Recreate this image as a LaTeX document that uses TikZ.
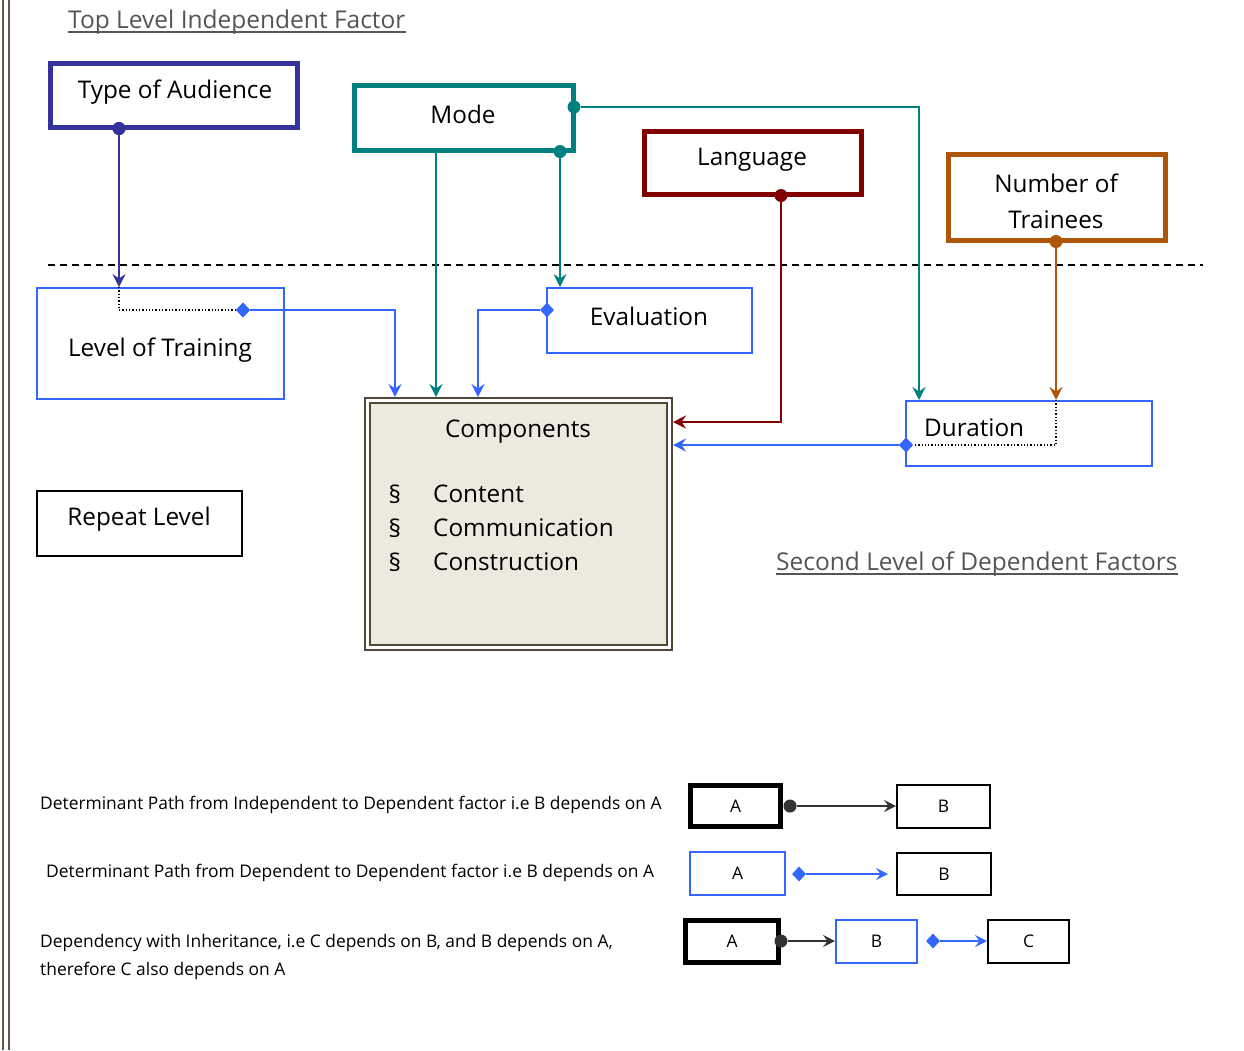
\documentclass[tikz,border=0pt]{standalone}
\usepackage{fontspec}
\setmainfont{Open Sans}
\usetikzlibrary{arrows.meta,shapes.geometric}
\definecolor{navyc}{HTML}{333399}
\definecolor{tealc}{HTML}{008080}
\definecolor{redc}{HTML}{800000}
\definecolor{brownc}{HTML}{AD5607}
\definecolor{bluec}{HTML}{3366FF}
\definecolor{olivec}{HTML}{4F4834}
\definecolor{borderc}{HTML}{5E5842}
\definecolor{compfill}{HTML}{ECEADF}
\definecolor{grayt}{HTML}{555555}
\definecolor{darkc}{HTML}{333333}
\begin{document}
\begin{tikzpicture}[x=1pt,y=-1pt,
  bigfont/.style={font=\fontsize{24.3}{28}\selectfont},
  smallfont/.style={font=\fontsize{17.4}{20}\selectfont},
  box/.style={draw, rectangle, inner sep=0pt},
  indbox/.style={box, line width=5pt},
  depbox/.style={box, line width=2pt, draw=bluec},
  plainbox/.style={box, line width=2pt, draw=black},
  txt/.style={inner sep=0pt, text=black},
  arr/.style={-{Stealth[length=13pt,width=13pt,inset=4.5pt]}, line width=1.7pt},
  larr/.style={-{Stealth[length=12pt,width=12pt,inset=4.5pt]}, line width=1.7pt},
  dotp/.style={circle, fill, inner sep=0pt, minimum size=13pt},
  diap/.style={diamond, fill=bluec, inner sep=0pt, minimum width=14pt, minimum height=15pt},
  dotline/.style={dotted, line width=1.3pt, draw=black},
  title/.style={inner sep=0pt, text=grayt, font=\fontsize{24.5}{30}\selectfont}
]
\useasboundingbox (0,0) rectangle (1244,1050);
% left border
\draw[borderc, line width=2.5pt] (3,0) -- (3,1050);
\draw[borderc, line width=2.5pt] (9,0) -- (9,1050);

% titles
\node[title, anchor=base west] (t1) at (68,28) {Top Level Independent Factor};
\draw[grayt, line width=2.5pt] ([yshift=-4pt]t1.base west) -- ([yshift=-4pt]t1.base east);
\node[title, anchor=base west] (t2) at (776,570) {Second Level of Dependent Factors};
\draw[grayt, line width=2.5pt] ([yshift=-4pt]t2.base west) -- ([yshift=-4pt]t2.base east);

% dashed separator
\draw[black, line width=1.5pt, dash pattern=on 7pt off 5pt] (48,265) -- (1203,265);

% independent boxes
\node[indbox, draw=navyc, minimum width=247pt, minimum height=64pt] (toa) at (174,95.5) {};
\node[txt, bigfont] (toat) at (175,92) {Type of Audience};
\node[indbox, draw=tealc, minimum width=219pt, minimum height=65pt] (mode) at (464,118) {};
\node[txt, bigfont] (modet) at (463,114) {Mode};
\node[indbox, draw=redc, minimum width=217pt, minimum height=63pt] (lang) at (753,163) {};
\node[txt, bigfont] (langt) at (752,160) {Language};
\node[indbox, draw=brownc, minimum width=217pt, minimum height=86pt] (not) at (1057,197.5) {};
\node[txt, bigfont, align=center] (nott) at (1056,201) {Number of\\[8pt]Trainees};

% dependent boxes
\node[depbox, minimum width=247pt, minimum height=111pt] (lot) at (160.5,343.5) {};
\node[txt, bigfont] (lott) at (160,350) {Level of Training};
\node[depbox, minimum width=205pt, minimum height=65pt] (eval) at (649.5,320.5) {};
\node[txt, bigfont] (evalt) at (649,316) {Evaluation};
\node[depbox, minimum width=246pt, minimum height=65pt] (dur) at (1029,433.5) {};
\node[txt, bigfont, anchor=west] (durt) at (924,428) {Duration};
\node[plainbox, minimum width=205pt, minimum height=65pt] (rep) at (139.5,523.5) {};
\node[txt, bigfont] (rept) at (139,519) {Repeat Level};

% components
\node[box, draw=olivec, fill=compfill, line width=2pt, double=white, double distance=3pt,
      outer sep=3.5pt, minimum width=302pt, minimum height=247pt] (comp) at (518.5,524) {};
\node[txt, bigfont] (compt) at (518,432) {Components};
\node[txt, bigfont] (b1) at (395,494) {\S};
\node[txt, bigfont] (b2) at (395,528) {\S};
\node[txt, bigfont] (b3) at (395,562) {\S};
\node[txt, bigfont, anchor=west] (c1) at (433,494) {Content};
\node[txt, bigfont, anchor=west] (c2) at (433,528) {Communication};
\node[txt, bigfont, anchor=west] (c3) at (433,562) {Construction};

% attachment points
\node[dotp, fill=navyc] (toad) at ([xshift=-55pt,yshift=1.5pt]toa.south) {};
\node[dotp, fill=tealc] (moder) at ([yshift=11pt,xshift=-2pt]mode.east) {};
\node[dotp, fill=tealc] (modeb) at ([xshift=96pt,yshift=1.5pt]mode.south) {};
\coordinate (model) at ([xshift=-28pt]mode.south);
\node[dotp, fill=redc] (langd) at ([xshift=28pt,yshift=1.5pt]lang.south) {};
\node[dotp, fill=brownc] (notd) at ([xshift=-1pt,yshift=1.5pt]not.south) {};
\node[diap] (lotd) at ([xshift=82.5pt,yshift=33.5pt]lot.center) {};
\node[diap] (evald) at ([yshift=10.5pt,xshift=1pt]eval.west) {};
\node[diap] (durd) at ([yshift=-11.5pt,xshift=1pt]dur.west) {};

% connectors
\draw[arr, navyc] (toad) -- (toad |- lot.north);
\draw[dotline] (toad |- lot.north) |- (lotd);
\draw[arr, bluec] (lotd) -| ([xshift=-123.5pt]comp.north);
\draw[arr, tealc] (moder) -| ([xshift=-110pt]dur.north);
\draw[arr, tealc] (modeb) -- (modeb |- eval.north);
\draw[arr, tealc] (model) -- (model |- comp.north);
\draw[arr, bluec] (evald) -| ([xshift=-40.5pt]comp.north);
\draw[arr, redc] (langd) |- ([yshift=102pt]comp.east);
\draw[arr, brownc] (notd) -- (notd |- dur.north);
\draw[dotline] (notd |- dur.north) |- (durd);
\draw[arr, bluec] (durd) -- (durd -| comp.east);
% redraw markers on top
\node[dotp, fill=navyc] at (toad) {};
\node[diap] at (lotd) {};
\node[diap] at (durd) {};

% legend
\node[txt, smallfont, anchor=west] (l1) at (40,805) {Determinant Path from Independent to Dependent factor i.e B depends on A};
\node[box, line width=5pt, draw=black, minimum width=90pt, minimum height=41pt, smallfont] (la1) at (735.5,806) {A};
\node[plainbox, minimum width=93pt, minimum height=43pt, smallfont] (lb1) at (943.5,806.5) {B};
\node[dotp, fill=darkc] (ld1) at (790,806) {};
\draw[larr, darkc] (ld1) -- (lb1.west |- ld1);

\node[txt, smallfont, anchor=west] (l2) at (46,873) {Determinant Path from Dependent to Dependent factor i.e B depends on A};
\node[depbox, minimum width=95pt, minimum height=43pt, smallfont] (la2) at (737.5,873.5) {A};
\node[plainbox, minimum width=94pt, minimum height=42pt, smallfont] (lb2) at (944,874) {B};
\node[diap] (ldd2) at (799,874) {};
\coordinate (le2) at ([xshift=-8pt]lb2.west);
\draw[larr, bluec] (ldd2) -- (le2);

\node[txt, smallfont, anchor=base west] (l3a) at (40,947) {Dependency with Inheritance, i.e C depends on B, and B depends on A,};
\node[txt, smallfont, anchor=base west] (l3b) at (40,975) {therefore C also depends on A};
\node[box, line width=5pt, draw=black, minimum width=93pt, minimum height=42pt, smallfont] (la3) at (732,941.5) {A};
\node[depbox, minimum width=81pt, minimum height=43pt, smallfont] (lb3) at (876.5,941.5) {B};
\node[plainbox, minimum width=81pt, minimum height=43pt, smallfont] (lc3) at (1028.5,941.5) {C};
\node[dotp, fill=darkc] (ld3) at (781,941) {};
\draw[larr, darkc] (ld3) -- (lb3.west |- ld3);
\node[diap] (ldd3) at (933,941) {};
\draw[larr, bluec] (ldd3) -- (lc3.west |- ldd3);
\end{tikzpicture}
\end{document}
